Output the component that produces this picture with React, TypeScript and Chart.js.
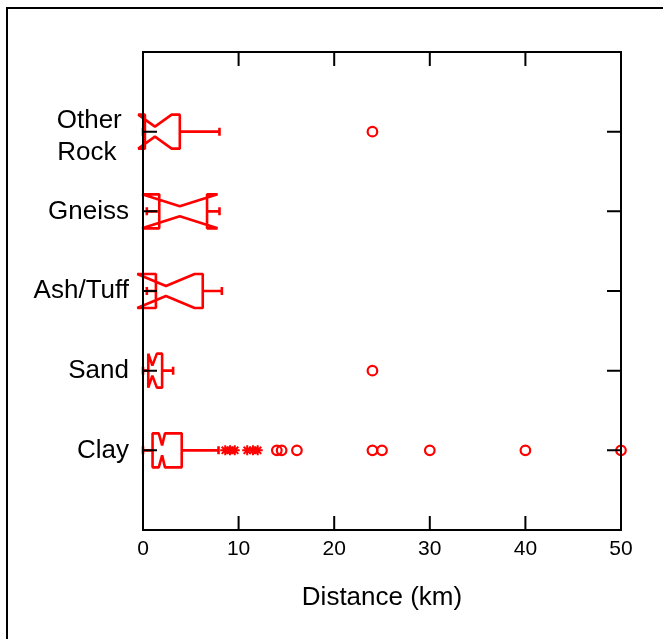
import React, { useEffect, useRef } from "react";
import { Chart, registerables } from "chart.js";

Chart.register(...registerables);

// ---- data ----
const categories = ["Clay", "Sand", "Ash/Tuff", "Gneiss", "Other Rock"];
const categoryLabels: (string | string[])[] = ["Clay", "Sand", "Ash/Tuff", "Gneiss", ["Other ", "Rock \u2009"]];
const whiskerLow = [0, 0, 0.4, 0.4, 0];
const q1 = [1.0, 0.55, 1.35, 1.7, 0.2];
const median = [2.0, 0.98, 2.4, 3.85, 1.25];
const notchLow = [1.65, 0.55, -0.6, -0.1, -0.5];
const notchHigh = [2.3, 1.45, 5.4, 7.8, 3.0];
const q3 = [4.05, 2.0, 6.25, 6.7, 3.85];
const whiskerHigh = [7.9, 3.15, 8.25, 8.0, 8.0];
const clayOutside = [8.6, 9.1, 9.6, 10.9, 11.5, 12.0];
const clayFarOutside = [14.0, 14.5, 16.1, 24, 25, 30, 40, 50];
const sandFarOutside = [24];
const otherRockFarOutside = [24];
const xTicks = [0, 10, 20, 30, 40, 50];

const RED = "#ff0000";
const FONT = "'Liberation Sans', Arial, Helvetica, sans-serif";
const MULTILINE_SHIFT = 0.065; // label nudge (axis units) for two-line label

const boxPlugin = {
  id: "notchedBoxes",
  beforeDatasetsDraw(chart: any) {
    const { ctx, scales } = chart;
    const xs = scales.x;
    const ys = scales.y;
    const H = 17;
    const inset = 12;
    const cap = 4;
    ctx.save();
    ctx.strokeStyle = RED;
    ctx.lineWidth = 2.6;
    ctx.lineJoin = "bevel";
    categories.forEach((_, i) => {
      const y = ys.getPixelForValue(i + 1);
      const px = (v: number) => xs.getPixelForValue(v);
      const top = y - H;
      const bot = y + H;
      ctx.beginPath();
      ctx.moveTo(px(q1[i]), top);
      ctx.lineTo(px(notchLow[i]), top);
      ctx.lineTo(px(median[i]), top + inset);
      ctx.lineTo(px(notchHigh[i]), top);
      ctx.lineTo(px(q3[i]), top);
      ctx.lineTo(px(q3[i]), bot);
      ctx.lineTo(px(notchHigh[i]), bot);
      ctx.lineTo(px(median[i]), bot - inset);
      ctx.lineTo(px(notchLow[i]), bot);
      ctx.lineTo(px(q1[i]), bot);
      ctx.closePath();
      ctx.stroke();
      // whiskers
      ctx.beginPath();
      ctx.moveTo(px(q1[i]), y);
      ctx.lineTo(px(whiskerLow[i]), y);
      ctx.moveTo(px(whiskerLow[i]), y - cap);
      ctx.lineTo(px(whiskerLow[i]), y + cap);
      ctx.moveTo(px(q3[i]), y);
      ctx.lineTo(px(whiskerHigh[i]), y);
      ctx.moveTo(px(whiskerHigh[i]), y - cap);
      ctx.lineTo(px(whiskerHigh[i]), y + cap);
      ctx.stroke();
    });
    ctx.restore();
  },
  afterDatasetsDraw(chart: any) {
    const { ctx, chartArea, scales } = chart;
    const { left, right, top, bottom } = chartArea;
    const tl = 14;
    ctx.save();
    ctx.strokeStyle = "#000";
    ctx.lineWidth = 2;
    ctx.strokeRect(left, top, right - left, bottom - top);
    ctx.beginPath();
    xTicks.forEach((v) => {
      const x = scales.x.getPixelForValue(v);
      ctx.moveTo(x, top);
      ctx.lineTo(x, top + tl);
      ctx.moveTo(x, bottom);
      ctx.lineTo(x, bottom - tl);
    });
    categories.forEach((_, i) => {
      const y = scales.y.getPixelForValue(i + 1);
      ctx.moveTo(left, y);
      ctx.lineTo(left + tl, y);
      ctx.moveTo(right, y);
      ctx.lineTo(right - tl, y);
    });
    ctx.stroke();
    // outer frame
    ctx.strokeRect(7, 8, 800, 800);
    ctx.restore();
  },
};

export default function App() {
  const ref = useRef<HTMLCanvasElement>(null);
  useEffect(() => {
    if (!ref.current) return;
    const pts = (vals: number[], cat: number) => vals.map((v) => ({ x: v, y: cat }));
    const chart = new Chart(ref.current, {
      type: "scatter",
      data: {
        datasets: [
          {
            data: pts(clayOutside, 1),
            pointStyle: "star",
            radius: 5,
            borderColor: RED,
            backgroundColor: RED,
            borderWidth: 2,
            clip: false,
          } as any,
          {
            data: [
              ...pts(clayFarOutside, 1),
              ...pts(sandFarOutside, 2),
              ...pts(otherRockFarOutside, 5),
            ],
            pointStyle: "circle",
            radius: 4.8,
            borderColor: RED,
            backgroundColor: "rgba(0,0,0,0)",
            borderWidth: 2.2,
            clip: false,
          } as any,
        ],
      },
      options: {
        animation: false,
        responsive: false,
        events: [],
        layout: { padding: { left: 0, top: 52, right: 42, bottom: 0 } },
        plugins: { legend: { display: false }, tooltip: { enabled: false } },
        scales: {
          x: {
            type: "linear",
            min: 0,
            max: 50,
            grid: { display: false, drawTicks: false },
            border: { display: false },
            afterBuildTicks: (s: any) => {
              s.ticks = xTicks.map((v) => ({ value: v }));
            },
            afterFit: (s: any) => {
              s.height = 109;
            },
            ticks: {
              color: "#000",
              font: { family: FONT, size: 21 },
              padding: 7,
              maxRotation: 0,
            },
            title: {
              display: true,
              text: "Distance (km)",
              color: "#000",
              font: { family: FONT, size: 26 },
              padding: { top: 0, bottom: 26 },
            },
          },
          y: {
            type: "linear",
            min: 0,
            max: 6,
            grid: { display: false, drawTicks: false },
            border: { display: false },
            afterBuildTicks: (s: any) => {
              s.ticks = categoryLabels.map((l, i) => ({
                value: i + 1 - (Array.isArray(l) ? MULTILINE_SHIFT : 0),
                label: l,
              }));
            },
            afterFit: (s: any) => {
              s.width = 143;
            },
            ticks: {
              color: "#000",
              font: { family: FONT, size: 26, lineHeight: 1.23 },
              padding: 14,
              callback: (v: any, idx: number) => categoryLabels[idx],
            },
          },
        },
      },
      plugins: [boxPlugin],
    });
    return () => chart.destroy();
  }, []);
  return (
    <div style={{ position: "absolute", left: 0, top: 0, width: 663, height: 639, background: "#fff" }}>
      <canvas ref={ref} width={663} height={639} style={{ display: "block" }} />
    </div>
  );
}
